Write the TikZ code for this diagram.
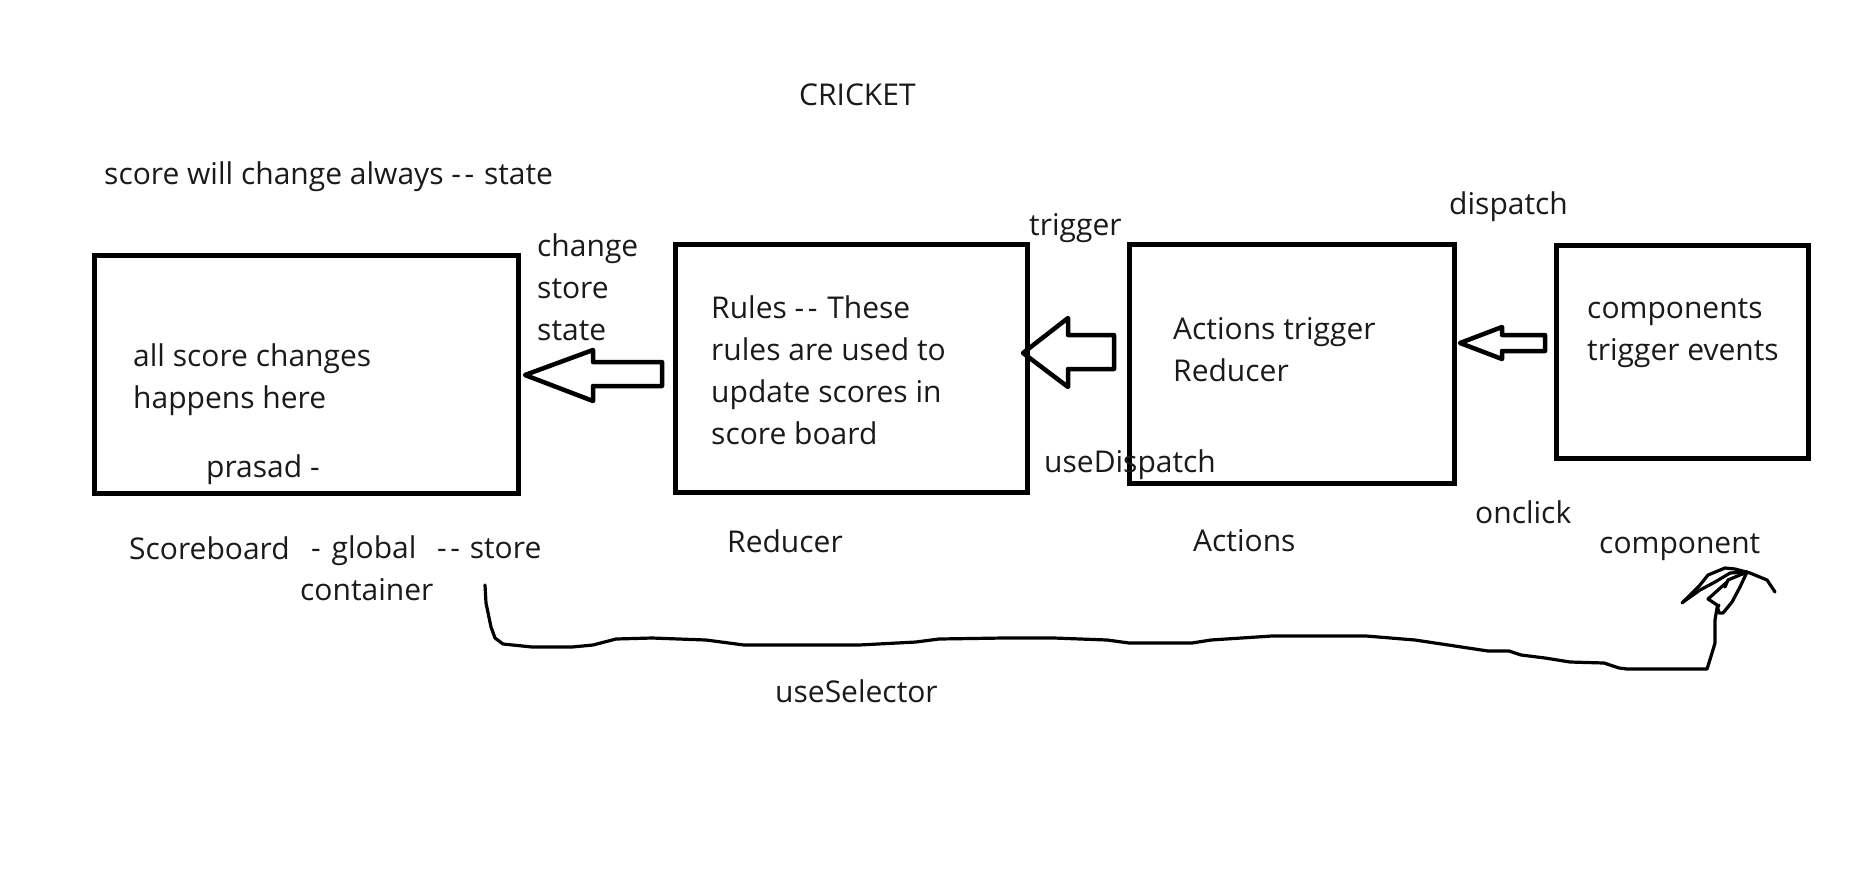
\documentclass[tikz,border=0pt]{standalone}
\usepackage{fontspec}
\setmainfont{Open Sans}
\definecolor{inktext}{RGB}{26,26,26}
\newcommand{\twodash}{-\kern3.5pt-\kern2pt}
\tikzstyle{boxline} = [draw=black, line width=5pt, inner sep=0pt, minimum width=#1]
\tikzstyle{blockarrow} = [draw=black, line width=4.5pt, line join=round]
\tikzstyle{freehand} = [draw=black, line width=3.2pt, line join=round, line cap=round]
\tikzstyle{note} = [anchor=west, inner sep=0pt, align=left, text=inktext, font=\fontsize{30}{42}\selectfont]
\begin{document}
\begin{tikzpicture}[x=1pt, y=-1pt]
            \useasboundingbox (0, 0) rectangle (1859, 881);

            \node[note] (title) at (799, 95) {CRICKET};
            \node[note] (scorestate) at (104, 177) {score will change always \twodash{} state};

            \node[boxline=424pt, minimum height=238pt] (scoreboard) at (306, 374) {};
            \node[boxline=352pt, minimum height=248pt] (reducer) at (851, 368) {};
            \node[boxline=325pt, minimum height=239pt] (actions) at (1291.5, 363.5) {};
            \node[boxline=252pt, minimum height=213pt] (components) at (1682, 351.5) {};

            \node[note] (changestore) at (537, 287) {change\\store\\state};
            \node[note] (scorenote) at (133, 380) {all score changes\\happens here};
            \node[note] (prasad) at (206, 470) {prasad -};
            \node[note] (rulesnote) at (711, 370) {Rules \twodash{} These\\rules are used to\\update scores in\\score board};
            \node[note] (actionsnote) at (1173, 350) {Actions trigger\\Reducer};
            \node[note] (componentsnote) at (1587, 333) {components\\trigger events};

            \node[note] (trigger) at (1029, 228) {trigger};
            \node[note] (dispatch) at (1449, 207) {dispatch};
            \node[note] (usedispatch) at (1044, 465) {useDispatch};
            \node[note] (onclick) at (1475, 512) {onclick};
            \node[note] (componentlabel) at (1599, 547) {component};

            \node[note] (scoreboardlabel) at (129, 548) {Scoreboard};
            \node[note] (global) at (311, 551) {-\kern3pt{} global};
            \node[note] (store) at (437, 549) {\twodash{} store};
            \node[note] (container) at (300, 590) {container};
            \node[note] (reducerlabel) at (727, 541) {Reducer};
            \node[note] (actionslabel) at (1193, 541) {Actions};
            \node[note] (useselector) at (775, 691) {useSelector};

            \draw[blockarrow] (525, 375) -- (593, 350) -- (593, 362) -- (662, 362)
                -- (662, 386) -- (593, 386) -- (593, 401) -- cycle;
            \draw[blockarrow] (1023, 353) -- (1068, 318) -- (1068, 335) -- (1114, 335)
                -- (1114, 369) -- (1068, 369) -- (1068, 387) -- cycle;
            \draw[blockarrow] (1460, 343) -- (1502, 327) -- (1502, 335) -- (1545, 335)
                -- (1545, 351) -- (1502, 351) -- (1502, 359) -- cycle;

            \draw[freehand] (485, 585) -- (486, 603) -- (491, 627) -- (495, 638) -- (503, 644)
                -- (532, 647) -- (572, 647) -- (593, 645) -- (616, 639) -- (652, 638)
                -- (706, 640) -- (744, 645) -- (859, 645) -- (916, 642) -- (939, 639)
                -- (1004, 638) -- (1054, 638) -- (1107, 640) -- (1129, 643) -- (1192, 643)
                -- (1211, 640) -- (1272, 636) -- (1366, 636) -- (1415, 640) -- (1488, 651)
                -- (1509, 651) -- (1521, 655) -- (1545, 658) -- (1570, 662) -- (1604, 663)
                -- (1619, 668) -- (1627, 669) -- (1707, 669) -- (1712, 653) -- (1715, 643)
                -- (1715, 620) -- (1717, 608) -- (1719, 605);
            \draw[freehand] (1682, 603) -- (1692, 593) -- (1700, 585) -- (1708, 575) -- (1725, 568)
                -- (1735, 569) -- (1750, 573) -- (1767, 580) -- (1775, 592);
            \draw[freehand] (1683, 602) -- (1700, 590) -- (1715, 582) -- (1730, 573) -- (1747, 572);
            \draw[freehand] (1747, 572) -- (1740, 587) -- (1732, 602) -- (1723, 613) -- (1719, 613)
                -- (1717, 605) -- (1708, 599) -- (1727, 582) -- (1725, 587) -- (1728, 580) -- (1747, 572);
        \end{tikzpicture}
\end{document}
